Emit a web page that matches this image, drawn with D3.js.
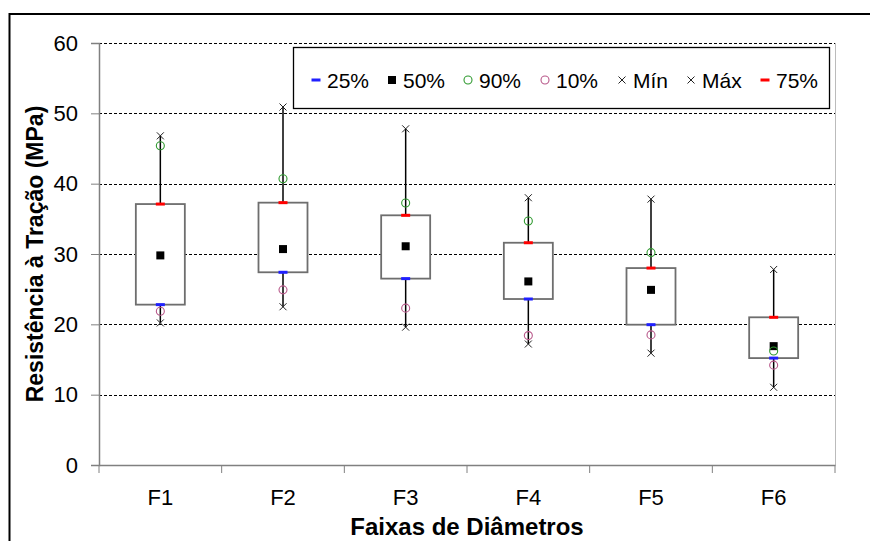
<!DOCTYPE html>
<html><head><meta charset="utf-8">
<script src="https://cdn.jsdelivr.net/npm/d3@7"></script>
<style>
html,body{margin:0;padding:0;background:#fff;}
svg{display:block;font-family:"Liberation Sans",Arial,sans-serif;}
</style></head>
<body><svg id="c" width="870" height="541"></svg>
<script>
const categories = ["F1","F2","F3","F4","F5","F6"];
const p25  = [22.8, 27.4, 26.5, 23.6, 19.95, 15.2];
const p50  = [29.8, 30.7, 31.1, 26.1, 24.9, 16.9];
const p90  = [45.4, 40.7, 37.25, 34.7, 30.2, 16.2];
const p10  = [21.85, 24.9, 22.3, 18.4, 18.5, 14.2];
const minV = [20.2, 22.5, 19.6, 17.2, 15.9, 11.05];
const maxV = [46.8, 50.9, 47.8, 38.0, 37.8, 27.8];
const p75  = [37.1, 37.3, 35.5, 31.6, 28.0, 21.0];
const yTicks = [0,10,20,30,40,50,60];
const legendLabels = ["25%","50%","90%","10%","Mín","Máx","75%"];

const svg = d3.select("#c");
const L=99, R=835, T=43, B=465;
const x = d3.scaleBand().domain(categories).range([L,R]).padding(0);
const y = d3.scaleLinear().domain([0,60]).range([B,T]);

// outer border
svg.append("rect").attr("x",9.5).attr("y",14).attr("width",900).attr("height",600)
  .attr("fill","none").attr("stroke","#000").attr("stroke-width",2);

// gridlines
svg.append("g").selectAll("line").data(yTicks.filter(d=>d>0)).join("line")
  .attr("x1",L).attr("x2",R).attr("y1",d=>Math.round(y(d))+0.5).attr("y2",d=>Math.round(y(d))+0.5)
  .attr("stroke","#000").attr("stroke-width",1).attr("stroke-dasharray","3,2");
// right edge
svg.append("line").attr("x1",R+0.5).attr("x2",R+0.5).attr("y1",T).attr("y2",B)
  .attr("stroke","#bbb").attr("stroke-width",1);

// y axis
const yAxis = d3.axisLeft(y).tickValues(yTicks).tickSize(8).tickPadding(13);
const gy = svg.append("g").attr("transform",`translate(${L},0)`).call(yAxis);
gy.select(".domain").attr("stroke","#808080").attr("stroke-width",1.5);
gy.selectAll(".tick line").attr("stroke","#808080");
gy.selectAll("text").attr("font-size",22).attr("fill","#000").attr("font-family","Liberation Sans, Arial");

// x axis
const xAxis = d3.axisBottom(x).tickSize(0).tickPadding(24);
const gx = svg.append("g").attr("transform",`translate(0,${B})`).call(xAxis);
gx.select(".domain").attr("stroke","#808080").attr("stroke-width",1.5);
gx.selectAll("text").attr("font-size",22).attr("fill","#000").attr("font-family","Liberation Sans, Arial");
// boundary ticks
const bounds = categories.map(c=>x(c)).concat([R]);
svg.append("g").selectAll("line").data(bounds).join("line")
  .attr("x1",d=>d).attr("x2",d=>d).attr("y1",B).attr("y2",B+8)
  .attr("stroke","#808080").attr("stroke-width",1);

// titles
svg.append("text").attr("x",(L+R)/2).attr("y",535).attr("text-anchor","middle")
  .attr("font-size",24).attr("font-weight","bold").text("Faixas de Diâmetros");
svg.append("text").attr("transform",`translate(43,${(T+B)/2}) rotate(-90)`).attr("text-anchor","middle")
  .attr("font-size",23).attr("font-weight","bold").text("Resistência à Tração (MPa)");

const bw = 49;
const cx = i => x(categories[i]) + x.bandwidth()/2;
const idx = d3.range(categories.length);
const g = svg.append("g");
// whiskers
g.selectAll(".wh").data(idx).join("line").attr("class","wh")
  .attr("x1",i=>cx(i)).attr("x2",i=>cx(i)).attr("y1",i=>y(minV[i])).attr("y2",i=>y(maxV[i]))
  .attr("stroke","#000").attr("stroke-width",1.5);
// boxes
g.selectAll(".bx").data(idx).join("rect").attr("class","bx")
  .attr("x",i=>cx(i)-bw/2).attr("width",bw)
  .attr("y",i=>y(p75[i])).attr("height",i=>y(p25[i])-y(p75[i]))
  .attr("fill","#fff").attr("stroke","#6e6e6e").attr("stroke-width",1.8);

function cross(sel, xs, ys){
  sel.append("path").attr("d",`M${xs-3.5},${ys-3.5}L${xs+3.5},${ys+3.5}M${xs-3.5},${ys+3.5}L${xs+3.5},${ys-3.5}`)
    .attr("stroke","#222").attr("stroke-width",1).attr("fill","none");
}
function dash(sel, xs, ys, col){
  sel.append("rect").attr("x",xs-4.5).attr("y",ys-1.5).attr("width",9).attr("height",3).attr("fill",col);
}
function circ(sel, xs, ys, col){
  sel.append("circle").attr("cx",xs).attr("cy",ys).attr("r",4).attr("fill","none").attr("stroke",col).attr("stroke-width",1.1);
}
function sq(sel, xs, ys){
  sel.append("rect").attr("x",xs-4).attr("y",ys-4).attr("width",8).attr("height",8).attr("fill","#000");
}
const cGreen="#2f9a2f", cPink="#b8588a", cBlue="#2020ff", cRed="#ff0000";
idx.forEach(i=>{
  const xs=cx(i);
  dash(g,xs,y(p25[i]),cBlue);
  sq(g,xs,y(p50[i]));
  circ(g,xs,y(p90[i]),cGreen);
  circ(g,xs,y(p10[i]),cPink);
  cross(g,xs,y(minV[i]));
  cross(g,xs,y(maxV[i]));
  dash(g,xs,y(p75[i]),cRed);
});

// legend
const lg = svg.append("g");
lg.append("rect").attr("x",293.5).attr("y",47.5).attr("width",536).attr("height",61)
  .attr("fill","#fff").attr("stroke","#000").attr("stroke-width",1.3);
const legX = [316, 392, 468, 545, 622, 691, 765];
const ly = 80;
const drawers = [
  (s,xx)=>dash(s,xx,ly,cBlue),
  (s,xx)=>sq(s,xx,ly),
  (s,xx)=>circ(s,xx,ly,cGreen),
  (s,xx)=>circ(s,xx,ly,cPink),
  (s,xx)=>cross(s,xx,ly),
  (s,xx)=>cross(s,xx,ly),
  (s,xx)=>dash(s,xx,ly,cRed)
];
legendLabels.forEach((t,i)=>{
  drawers[i](lg,legX[i]);
  lg.append("text").attr("x",legX[i]+11).attr("y",ly+7.5).attr("font-size",21).text(t);
});
</script></body></html>
